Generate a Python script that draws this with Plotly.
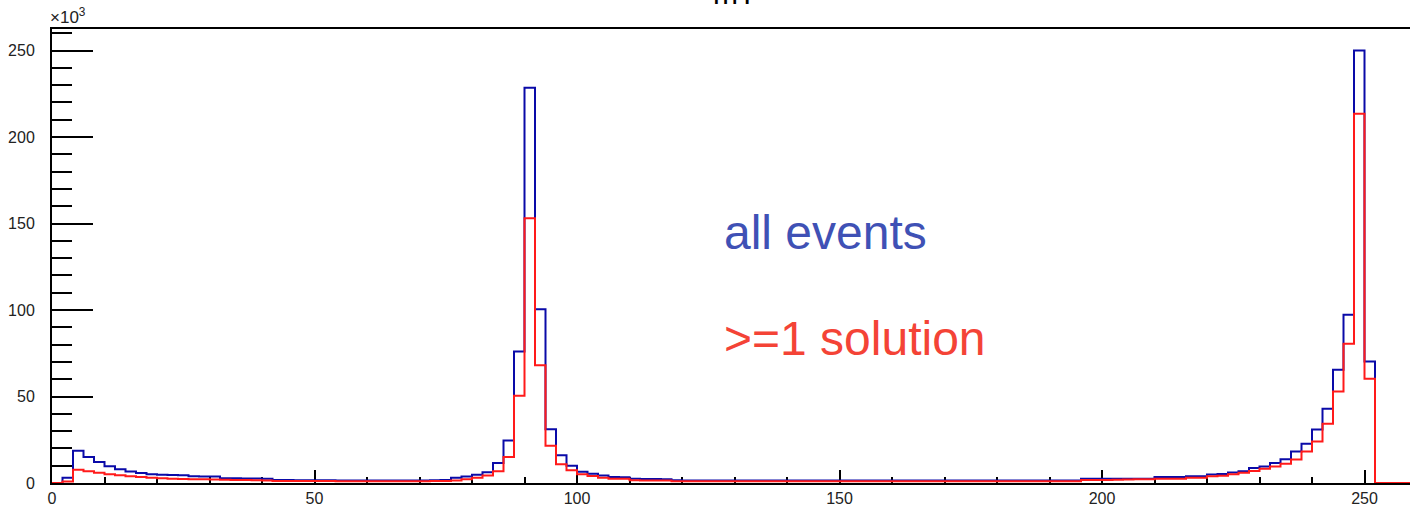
import plotly.graph_objects as go

# Histogram bin edges: 0..260 in steps of 2 (130 bins)
bin_width = 2
n_bins = 130
bin_edges = [i * bin_width for i in range(n_bins + 1)]

# Counts (in units of 10^3) per bin, "all events"
all_events = (
    [0.0, 3.0, 18.6, 15.0, 12.1, 9.7, 7.9, 6.7, 5.8, 5.0,
     4.7, 4.6, 4.5, 3.9, 3.8, 3.7, 2.8, 2.7, 2.6, 2.6,
     2.5, 1.7, 1.7, 1.6, 1.6, 1.6, 1.6, 1.5, 1.5, 1.5,
     1.5, 1.5, 1.5, 1.5, 1.5, 1.5, 1.6, 1.8, 3.0, 3.8,
     4.7, 6.2, 11.6, 24.5, 76.0, 228.5, 100.5, 31.0, 16.0, 9.9,
     6.5, 5.3, 4.3, 3.4, 3.3, 2.4, 2.3, 2.3, 2.2, 1.6,
     1.5, 1.5, 1.5, 1.5, 1.5, 1.5, 1.5, 1.5, 1.5, 1.5,
     1.5, 1.5, 1.5, 1.5, 1.5, 1.5, 1.5, 1.5, 1.5, 1.5,
     1.5, 1.5, 1.5, 1.5, 1.5, 1.5, 1.5, 1.5, 1.5, 1.5,
     1.5, 1.5, 1.5, 1.5, 1.5, 1.5, 1.5, 1.5, 2.5, 2.5,
     2.5, 2.5, 2.5, 2.5, 2.5, 3.4, 3.4, 3.4, 3.9, 3.9,
     4.9, 5.2, 6.0, 6.8, 8.6, 9.5, 11.5, 13.8, 18.2, 22.7,
     30.9, 42.9, 65.4, 97.2, 250.0, 70.2, 0.0, 0.0, 0.0, 0.0]
)

# Counts (in units of 10^3) per bin, ">=1 solution"
one_solution = (
    [0.0, 0.8, 7.6, 6.8, 5.9, 5.1, 4.5, 3.9, 3.5, 3.1,
     2.7, 2.5, 2.3, 2.2, 2.1, 2.0, 1.9, 1.8, 1.7, 1.6,
     1.5, 1.2, 1.2, 1.1, 1.1, 1.1, 1.1, 1.0, 1.0, 1.0,
     1.0, 1.0, 1.0, 1.0, 1.0, 1.0, 1.1, 1.2, 1.5, 2.1,
     3.0, 4.3, 6.8, 15.0, 50.5, 153.0, 68.0, 21.5, 10.8, 7.3,
     5.0, 4.1, 3.0, 2.4, 2.4, 1.6, 1.5, 1.5, 1.4, 1.0,
     1.0, 1.0, 1.0, 1.0, 1.0, 1.0, 1.0, 1.0, 1.0, 1.0,
     1.0, 1.0, 1.0, 1.0, 1.0, 1.0, 1.0, 1.0, 1.0, 1.0,
     1.0, 1.0, 1.0, 1.0, 1.0, 1.0, 1.0, 1.0, 1.0, 1.0,
     1.0, 1.0, 1.0, 1.0, 1.0, 1.0, 1.0, 1.0, 1.8, 1.8,
     1.8, 1.9, 2.0, 2.1, 2.2, 2.5, 2.5, 2.5, 3.1, 3.1,
     3.9, 4.2, 5.0, 5.9, 7.0, 8.2, 9.5, 11.1, 13.6, 18.2,
     24.0, 34.2, 52.9, 80.5, 213.4, 60.2, 0.0, 0.0, 0.0, 0.0]
)

x_tick_vals = [0, 50, 100, 150, 200, 250]
x_tick_text = ["0", "50", "100", "150", "200", "250"]
y_tick_vals = [0, 50, 100, 150, 200, 250]
y_tick_text = ["0", "50", "100", "150", "200", "250"]

title_text = "mT"
label_all = "all events"
label_sol = ">=1 solution"

FONT = "Liberation Sans, Arial, Helvetica, sans-serif"

fig = go.Figure()

fig.add_trace(go.Scatter(
    x=bin_edges, y=all_events + [all_events[-1]],
    mode="lines", line=dict(shape="hv", color="#0a0aa8", width=2),
    hoverinfo="skip", showlegend=False,
))
fig.add_trace(go.Scatter(
    x=bin_edges, y=one_solution + [one_solution[-1]],
    mode="lines", line=dict(shape="hv", color="#ff1a1a", width=2),
    hoverinfo="skip", showlegend=False,
))

W, H = 1410, 507
ml, mr, mt, mb = 52, 0, 29, 24
plot_w = W - ml - mr
plot_h = H - mt - mb

x_max = plot_w / 5.25
y_max = plot_h / 1.73

fig.update_layout(
    width=W, height=H,
    margin=dict(l=ml, r=mr, t=mt, b=mb, pad=0, autoexpand=False),
    paper_bgcolor="white", plot_bgcolor="white",
    font=dict(family=FONT, size=16, color="black"),
    showlegend=False,
)

fig.update_xaxes(
    range=[0, x_max], automargin=False,
    tickvals=x_tick_vals, ticktext=x_tick_text,
    ticks="inside", ticklen=13, tickwidth=2, tickcolor="black",
    showline=True, linewidth=2, linecolor="black", mirror=True,
    showgrid=False, zeroline=False,
    minor=dict(dtick=10, tick0=0, ticks="inside", ticklen=6, tickwidth=2,
               tickcolor="black", showgrid=False),
    tickfont=dict(family=FONT, size=16, color="#222"),
    ticklabelstandoff=0,
    layer="below traces",
)
fig.update_yaxes(
    range=[0, y_max], automargin=False,
    tickvals=y_tick_vals, ticktext=y_tick_text,
    ticks="inside", ticklen=41, tickwidth=2, tickcolor="black",
    showline=True, linewidth=2, linecolor="black", mirror=False,
    showgrid=False, zeroline=False,
    minor=dict(dtick=10, tick0=0, ticks="inside", ticklen=20, tickwidth=2,
               tickcolor="black", showgrid=False),
    tickfont=dict(family=FONT, size=16, color="#222"),
    ticklabelstandoff=12,
    layer="below traces",
)

def px_to_paper_x(px):
    return (px - ml) / plot_w

def px_to_paper_y(py):
    return (H - mb - py) / plot_h

fig.add_annotation(
    x=px_to_paper_x(722), y=px_to_paper_y(232), xref="paper", yref="paper",
    text=label_all, showarrow=False, xanchor="left", yanchor="middle",
    font=dict(family=FONT, size=48, color="#3F51B5"),
)
fig.add_annotation(
    x=px_to_paper_x(722), y=px_to_paper_y(338), xref="paper", yref="paper",
    text=label_sol, showarrow=False, xanchor="left", yanchor="middle",
    font=dict(family=FONT, size=48, color="#F44336"),
)
fig.add_annotation(
    x=px_to_paper_x(48), y=px_to_paper_y(29), xref="paper", yref="paper",
    text="×10<sup>3</sup>", showarrow=False, xanchor="left", yanchor="bottom",
    font=dict(family=FONT, size=17, color="#222"),
)
fig.add_annotation(
    x=px_to_paper_x(734), y=px_to_paper_y(12), xref="paper", yref="paper",
    text=title_text, showarrow=False, xanchor="center", yanchor="bottom",
    font=dict(family=FONT, size=30, color="black"),
)

fig.write_html(
    "out.html",
    config={"displayModeBar": False, "staticPlot": True},
    post_script="document.body.style.margin='0px';document.body.style.overflow='hidden';",
)
